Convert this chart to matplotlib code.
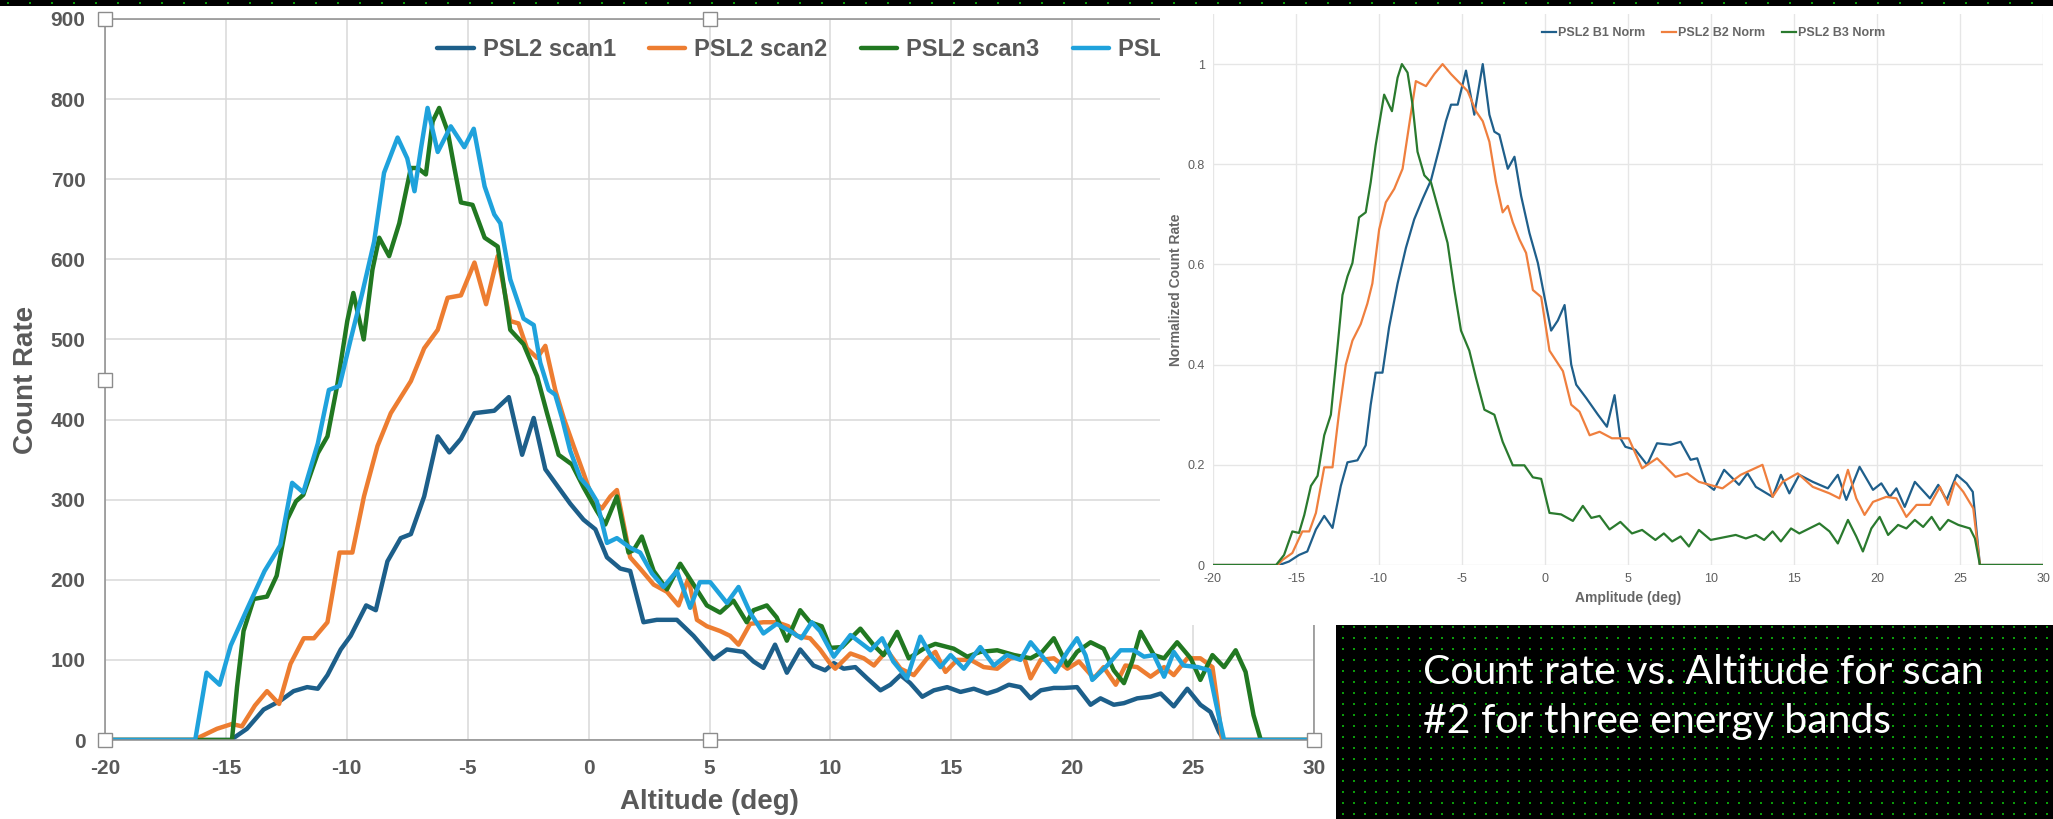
"""Slide recreation: PSL2 count rate vs altitude (4 scans) with the
normalized three-band inset and the caption box."""
import matplotlib
matplotlib.use("Agg")
import matplotlib.pyplot as plt
import numpy as np
from matplotlib.patches import Rectangle
from matplotlib.ticker import FuncFormatter

W, H = 2053, 819
plt.rcParams["font.family"] = ["Liberation Sans", "DejaVu Sans"]
plt.rcParams["axes.unicode_minus"] = False

# ---- left chart: count rate per scan --------------------------------------
SCAN1_X = [-20, -14.8, -14.13, -13.44, -12.75, -12.2, -11.64, -11.2, -10.8, -10.25, -9.84, -9.2, -8.8,
           -8.32, -7.77, -7.35, -6.8, -6.24, -5.76, -5.28, -4.72, -3.9, -3.3, -2.75, -2.27, -1.79,
           -1.24, -0.76, -0.21, 0.28, 0.76, 1.31, 1.72, 2.27, 2.82, 3.65, 4.34, 5.17, 5.72, 6.4, 6.82,
           7.23, 7.71, 8.2, 8.75, 9.3, 9.78, 10.14, 10.55, 11.03, 11.52, 12.07, 12.48, 12.9, 13.3,
           13.8, 14.28, 14.83, 15.38, 15.93, 16.48, 16.9, 17.38, 17.86, 18.28, 18.7, 19.24, 19.66,
           20.2, 20.76, 21.17, 21.72, 22.14, 22.69, 23.24, 23.66, 24.2, 24.76, 25.3, 25.72, 26.07,
           26.28, 30]
SCAN1_Y = [0, 0, 14, 38, 49, 61, 66, 64, 81, 113, 130, 168, 162,
           223, 252, 257, 304, 379, 359, 376, 408, 411, 428, 356, 402, 338,
           315, 295, 275, 263, 228, 214, 211, 147, 150, 150, 130, 101, 113, 110, 98,
           90, 119, 84, 113, 93, 87, 96, 89, 91, 77, 62, 69, 81, 71,
           54, 62, 66, 60, 64, 58, 62, 69, 66, 52, 62, 65, 65,
           66, 44, 52, 44, 46, 52, 54, 58, 42, 64, 44, 35, 10,
           0, 0]

SCAN2_X = [-20, -16.3, -16.06, -15.37, -14.75, -14.34, -13.8, -13.3, -12.8, -12.33, -11.78, -11.36,
           -10.8, -10.3, -9.77, -9.29, -8.73, -8.18, -7.35, -6.8, -6.24, -5.83, -5.28, -4.72, -4.24,
           -3.76, -3.24, -2.9, -2.55, -2.13, -1.79, -1.38, -1.03, -0.62, -0.21, 0.2, 0.55, 0.9, 1.17,
           1.72, 2.13, 2.69, 3.24, 3.72, 4.13, 4.48, 4.89, 5.44, 5.85, 6.2, 6.68, 7.23, 7.78, 8.26,
           8.61, 9.16, 9.57, 10.0, 10.2, 10.83, 11.38, 11.8, 12.34, 12.9, 13.45, 14.0, 14.34, 14.76,
           15.24, 15.8, 16.34, 16.9, 17.45, 18.0, 18.28, 18.7, 19.24, 19.8, 20.28, 20.9, 21.3, 21.8,
           22.2, 22.69, 23.24, 23.8, 24.2, 24.76, 25.3, 25.8, 26.0, 26.2, 30]
SCAN2_Y = [0, 0, 4, 14, 20, 17, 43, 61, 45, 95, 127, 127,
           147, 234, 234, 304, 367, 408, 448, 489, 512, 552, 555, 596, 544,
           604, 523, 520, 489, 477, 492, 437, 402, 367, 333, 298, 289, 304, 312,
           228, 214, 194, 185, 168, 202, 150, 142, 136, 130, 119, 145, 147, 147, 142,
           130, 127, 113, 95, 89, 108, 102, 93, 112, 89, 81, 102, 110, 85,
           100, 100, 91, 89, 102, 104, 77, 100, 102, 89, 98, 77, 91, 69,
           93, 91, 79, 91, 81, 102, 102, 91, 48, 0, 0]

SCAN3_X = [-20, -14.75, -14.54, -14.27, -13.85, -13.3, -12.9, -12.47, -12.1, -11.8, -11.2, -10.8,
           -10.4, -9.98, -9.73, -9.3, -8.94, -8.66, -8.25, -7.83, -7.35, -7.07, -6.73, -6.45, -6.18,
           -5.83, -5.55, -5.28, -4.8, -4.3, -3.76, -3.55, -3.24, -2.69, -2.13, -1.72, -1.24, -0.69,
           -0.2, 0.34, 0.69, 1.17, 1.65, 1.86, 2.2, 2.69, 3.24, 3.79, 4.34, 4.89, 5.44, 5.99, 6.54,
           6.82, 7.37, 7.78, 8.2, 8.75, 9.16, 9.64, 10.0, 10.48, 11.24, 11.8, 12.2, 12.76, 13.24,
           13.86, 14.34, 15.1, 15.66, 16.2, 16.9, 17.6, 18.28, 18.76, 19.24, 19.8, 20.2, 20.76, 21.3,
           21.72, 22.14, 22.48, 22.83, 23.38, 23.8, 24.34, 24.9, 25.3, 25.8, 26.28, 26.76, 27.17,
           27.5, 27.8, 30]
SCAN3_Y = [0, 0, 66, 136, 176, 179, 205, 275, 298, 306, 358, 379,
           442, 523, 558, 500, 587, 627, 604, 645, 714, 714, 706, 772, 789,
           760, 714, 671, 668, 627, 616, 575, 512, 494, 454, 408, 356, 344,
           315, 286, 269, 304, 234, 237, 254, 211, 188, 220, 194, 168, 159, 174, 147,
           162, 168, 153, 124, 162, 147, 142, 115, 116, 139, 118, 106, 135, 102,
           114, 120, 114, 104, 110, 112, 106, 102, 110, 127, 93, 110, 122, 114,
           87, 71, 98, 135, 106, 102, 122, 102, 75, 106, 91, 112, 85,
           31, 0, 0]

SCAN4_X = [-20, -16.27, -15.8, -15.26, -14.8, -14.1, -13.4, -12.75, -12.26, -11.8, -11.2, -10.74,
           -10.3, -9.84, -9.36, -8.87, -8.46, -7.9, -7.5, -7.2, -6.94, -6.66, -6.24, -5.7, -5.14,
           -4.75, -4.3, -3.9, -3.65, -3.24, -2.69, -2.27, -2.0, -1.65, -1.38, -1.1, -0.76, -0.34, 0,
           0.34, 0.76, 1.17, 1.72, 2.13, 2.62, 3.1, 3.65, 4.2, 4.6, 5.03, 5.72, 6.2, 6.68, 7.23,
           7.78, 8.33, 8.8, 9.23, 9.57, 10.14, 10.83, 11.66, 12.14, 12.6, 13.17, 13.72, 14.14, 14.55,
           14.97, 15.52, 16.2, 16.76, 17.3, 17.86, 18.28, 18.83, 19.3, 19.8, 20.2, 20.55, 20.83,
           21.45, 22.0, 22.55, 22.97, 23.38, 23.8, 24.2, 24.6, 25.2, 25.66, 25.93, 26.28, 30]
SCAN4_Y = [0, 0, 84, 69, 118, 165, 211, 243, 321, 309, 370, 437,
           442, 500, 558, 622, 708, 752, 726, 685, 737, 789, 734, 766, 740,
           763, 691, 656, 645, 575, 526, 518, 471, 437, 431, 402, 361, 327, 315,
           298, 246, 252, 240, 234, 208, 191, 211, 165, 197, 197, 171, 191, 159, 133,
           145, 136, 127, 147, 136, 104, 131, 112, 127, 98, 77, 129, 106, 91,
           106, 89, 116, 93, 106, 100, 122, 102, 85, 110, 127, 106, 75,
           93, 112, 112, 104, 106, 79, 110, 93, 91, 87, 48, 0, 0]

SCANS = [
    ("PSL2 scan1", SCAN1_X, SCAN1_Y, "#1d5f8a"),
    ("PSL2 scan2", SCAN2_X, SCAN2_Y, "#ed7d31"),
    ("PSL2 scan3", SCAN3_X, SCAN3_Y, "#217821"),
    ("PSL2 scan4", SCAN4_X, SCAN4_Y, "#1fa2dc"),
]

# ---- right chart: normalized count rate per energy band -------------------
B1_X = [-20, -16.0, -15.42, -14.82, -14.32, -13.8, -13.3, -12.8, -12.3, -11.9, -11.3, -10.8, -10.5,
        -10.2, -9.79, -9.39, -8.88, -8.38, -7.88, -7.37, -6.87, -6.37, -5.97, -5.66, -5.26, -4.76,
        -4.26, -3.75, -3.35, -3.05, -2.75, -2.24, -1.84, -1.44, -0.94, -0.43, -0.03, 0.37, 0.77,
        1.18, 1.58, 1.88, 2.49, 3.19, 3.73, 4.19, 4.54, 4.84, 5.44, 6.15, 6.75, 7.56, 8.17, 8.77,
        9.17, 9.68, 10.18, 10.79, 11.69, 12.2, 12.7, 13.71, 14.21, 14.72, 15.32, 16.13, 17.04,
        17.64, 18.15, 18.95, 19.76, 20.26, 20.77, 21.17, 21.67, 22.28, 23.19, 23.69, 24.19, 24.8,
        25.4, 25.77, 26.0, 26.2, 30]
B1_Y = [0, 0, 0.007, 0.02, 0.027, 0.071, 0.098, 0.074, 0.158, 0.205, 0.209, 0.239, 0.32,
        0.384, 0.384, 0.475, 0.562, 0.633, 0.69, 0.731, 0.768, 0.832, 0.886, 0.919, 0.919, 0.987,
        0.899, 1.0, 0.899, 0.865, 0.859, 0.791, 0.815, 0.737, 0.663, 0.603, 0.535, 0.468, 0.488,
        0.519, 0.40, 0.36, 0.333, 0.30, 0.276, 0.339, 0.253, 0.236, 0.23, 0.20, 0.243, 0.24, 0.246,
        0.21, 0.213, 0.163, 0.15, 0.19, 0.16, 0.183, 0.156, 0.136, 0.18, 0.143, 0.18, 0.166, 0.153,
        0.18, 0.13, 0.196, 0.15, 0.163, 0.136, 0.153, 0.116, 0.166, 0.133, 0.16, 0.13, 0.18,
        0.163, 0.146, 0.067, 0, 0]

B2_X = [-20, -16.1, -15.82, -15.22, -14.62, -14.2, -13.8, -13.3, -12.8, -12.4, -12.0, -11.6, -11.1,
        -10.7, -10.4, -9.99, -9.59, -9.08, -8.58, -8.18, -7.78, -7.17, -6.67, -6.17, -5.66, -5.16,
        -4.66, -4.16, -3.75, -3.35, -2.95, -2.55, -2.24, -1.94, -1.54, -1.14, -0.73, -0.23, 0.27,
        1.08, 1.58, 2.08, 2.69, 3.29, 4.03, 5.04, 5.85, 6.75, 7.86, 8.57, 9.27, 10.69, 11.79, 13.1,
        13.71, 14.31, 15.22, 16.13, 17.14, 17.74, 18.25, 18.75, 19.25, 19.76, 20.56, 21.17, 21.77,
        22.38, 23.19, 23.79, 24.29, 24.7, 25.2, 25.8, 26.2, 30]
B2_Y = [0, 0, 0.01, 0.024, 0.067, 0.067, 0.104, 0.195, 0.195, 0.306, 0.40, 0.448, 0.481,
        0.522, 0.562, 0.67, 0.724, 0.751, 0.791, 0.879, 0.966, 0.956, 0.98, 1.0, 0.98, 0.963,
        0.946, 0.906, 0.886, 0.845, 0.764, 0.704, 0.717, 0.684, 0.65, 0.623, 0.549, 0.535, 0.428,
        0.387, 0.32, 0.306, 0.259, 0.266, 0.253, 0.253, 0.193, 0.213, 0.176, 0.183, 0.166, 0.153,
        0.18, 0.20, 0.136, 0.166, 0.183, 0.156, 0.143, 0.133, 0.19, 0.133, 0.10, 0.126, 0.136,
        0.133, 0.096, 0.12, 0.12, 0.156, 0.12, 0.166, 0.146, 0.113, 0, 0]

B3_X = [-20, -16.2, -15.72, -15.22, -14.82, -14.5, -14.1, -13.7, -13.3, -12.9, -12.6, -12.2, -11.9,
        -11.6, -11.2, -10.8, -10.5, -10.2, -9.69, -9.22, -8.88, -8.62, -8.28, -7.98, -7.68, -7.27,
        -6.87, -6.37, -5.87, -5.46, -5.06, -4.56, -4.16, -3.65, -3.05, -2.55, -1.94, -1.24, -0.73,
        -0.23, 0.27, 0.97, 1.68, 2.28, 2.79, 3.29, 3.89, 4.54, 5.24, 5.85, 6.65, 7.16, 7.66, 8.17,
        8.67, 9.27, 9.98, 11.49, 12.1, 12.7, 13.2, 13.71, 14.21, 14.82, 15.32, 16.53, 17.14, 17.64,
        18.25, 18.75, 19.15, 19.66, 20.16, 20.67, 21.27, 21.77, 22.28, 22.78, 23.29, 23.79, 24.29,
        24.9, 25.6, 25.9, 26.2, 30]
B3_Y = [0, 0, 0.02, 0.067, 0.064, 0.10, 0.158, 0.178, 0.259, 0.30, 0.40, 0.539, 0.576,
        0.603, 0.694, 0.704, 0.764, 0.838, 0.939, 0.906, 0.973, 1.0, 0.983, 0.919, 0.825, 0.778,
        0.764, 0.704, 0.643, 0.549, 0.468, 0.428, 0.374, 0.31, 0.30, 0.246, 0.199, 0.199, 0.175,
        0.172, 0.104, 0.101, 0.088, 0.118, 0.094, 0.098, 0.071, 0.086, 0.063, 0.07, 0.05, 0.063,
        0.047, 0.057, 0.037, 0.07, 0.05, 0.06, 0.053, 0.06, 0.05, 0.067, 0.047, 0.073, 0.063,
        0.083, 0.067, 0.043, 0.09, 0.057, 0.027, 0.073, 0.096, 0.06, 0.08, 0.073, 0.09, 0.076,
        0.096, 0.07, 0.09, 0.08, 0.073, 0.053, 0, 0]

BANDS = [
    ("PSL2 B1 Norm", B1_X, B1_Y, "#1f5f8b"),
    ("PSL2 B2 Norm", B2_X, B2_Y, "#ef7f3e"),
    ("PSL2 B3 Norm", B3_X, B3_Y, "#2a7a2e"),
]

CAPTION = ["Count rate vs. Altitude for scan", "#2 for three energy bands"]


def fig_rect(x0, y0, x1, y1):
    """pixel box (top-left origin) -> figure-fraction rect"""
    return [x0 / W, 1 - y1 / H, (x1 - x0) / W, (y1 - y0) / H]


fig = plt.figure(figsize=(W / 100, H / 100), dpi=100, facecolor="white")

# ---- left chart ----------------------------------------------------------
ax = fig.add_axes(fig_rect(105, 19, 1314, 740), zorder=1)
for name, xs, ys, col in SCANS:
    ax.plot(xs, ys, color=col, lw=3.2, label=name,
            solid_joinstyle="round", solid_capstyle="round")
ax.set_xlim(-20, 30)
ax.set_ylim(0, 900)
ax.set_xticks(np.arange(-20, 31, 5))
ax.set_yticks(np.arange(0, 901, 100))
ax.grid(color="#d9d9d9", lw=1.1)
ax.set_axisbelow(True)
for sp in ax.spines.values():
    sp.set_color("#8c8c8c")
    sp.set_linewidth(1.1)
ax.tick_params(length=0, pad=14, labelsize=15, labelcolor="#595959")
for lbl in ax.get_xticklabels() + ax.get_yticklabels():
    lbl.set_fontweight("bold")
ax.set_xlabel("Altitude (deg)", fontsize=20, fontweight="bold", color="#595959", va="center")
ax.xaxis.set_label_coords(0.5, -0.086)
ax.set_ylabel("Count Rate", fontsize=20, fontweight="bold", color="#595959", va="center")
ax.yaxis.set_label_coords(-0.065, 0.5)
ax.legend(loc="center left", bbox_to_anchor=(437 / W, 1 - 50 / H),
          bbox_transform=fig.transFigure, ncol=4, frameon=False,
          borderpad=0, borderaxespad=0, handlelength=1.55, handletextpad=0.38,
          columnspacing=1.4, prop={"weight": "bold", "size": 17},
          labelcolor="#595959")

# powerpoint selection handles on the left chart
x0, x1 = ax.get_xlim()
y0, y1 = ax.get_ylim()
xm, ym = (x0 + x1) / 2, (y0 + y1) / 2
ax.plot([x0, xm, x0, x0, xm, x1], [y1, y1, ym, y0, y0, y0], ls="none",
        marker="s", ms=9.5, mfc="white", mec="#8c8c8c", mew=1,
        clip_on=False, zorder=5)

# ---- right chart (pasted over the left one) ------------------------------
fig.add_artist(Rectangle((1160 / W, 1 - 625 / H), (W - 1160) / W, (625 - 6) / H,
                         transform=fig.transFigure, facecolor="white",
                         edgecolor="none", zorder=2))
axr = fig.add_axes(fig_rect(1213, 14, 2043, 565), zorder=3)
axr.patch.set_alpha(0)
for name, xs, ys, col in BANDS:
    axr.plot(xs, ys, color=col, lw=1.6, label=name)
axr.set_xlim(-20, 30)
axr.set_ylim(0, 1.1)
axr.set_xticks(np.arange(-20, 31, 5))
axr.set_yticks(np.arange(0, 1.01, 0.2))
axr.yaxis.set_major_formatter(FuncFormatter(lambda v, _: f"{v:g}"))
axr.grid(color="#e6e6e6", lw=1)
axr.set_axisbelow(True)
for sp in axr.spines.values():
    sp.set_visible(False)
axr.tick_params(length=0, pad=6, labelsize=9, labelcolor="#5e5e5e")
axr.set_xlabel("Amplitude (deg)", fontsize=10, fontweight="bold", color="#666666", va="center")
axr.xaxis.set_label_coords(0.5, -0.06)
axr.set_ylabel("Normalized Count Rate", fontsize=10, fontweight="bold", color="#666666",
               va="center")
axr.yaxis.set_label_coords(-0.0446, 0.5)
axr.legend(loc="center left", bbox_to_anchor=(1542 / W, 1 - 33 / H),
           bbox_transform=fig.transFigure, ncol=3, frameon=False,
           borderpad=0, borderaxespad=0, handlelength=1.1, handletextpad=0.15,
           columnspacing=1.4, prop={"weight": "bold", "size": 9},
           labelcolor="#666666")

# ---- slide decorations: black strip, caption box with dotted pattern -----
ov = fig.add_axes([0, 0, 1, 1], zorder=6)
ov.set_xlim(0, W)
ov.set_ylim(H, 0)
ov.axis("off")
ov.add_patch(Rectangle((0, 0), W, 6, facecolor="black", edgecolor="none"))
ov.add_patch(Rectangle((1336, 625), W - 1336, H - 625, facecolor="black", edgecolor="none"))
rows = np.arange(627, H, 11)
dots = [(x, y) for y in rows for x in np.arange(1343, W, 11)]
dots += [(x, 3) for x in np.arange(8, W, 22)]
dx, dy = zip(*dots)
ov.scatter(dx, dy, s=3.2, marker="s", color="#0a9a0a", linewidths=0)
for line, base in zip(CAPTION, [684, 733]):
    ov.text(1423, base, line, color="white", fontsize=29.5, va="baseline", ha="left",
            family=["Lato", "DejaVu Sans"], fontweight="normal")

fig.savefig("out.png", dpi=100, facecolor="white")
